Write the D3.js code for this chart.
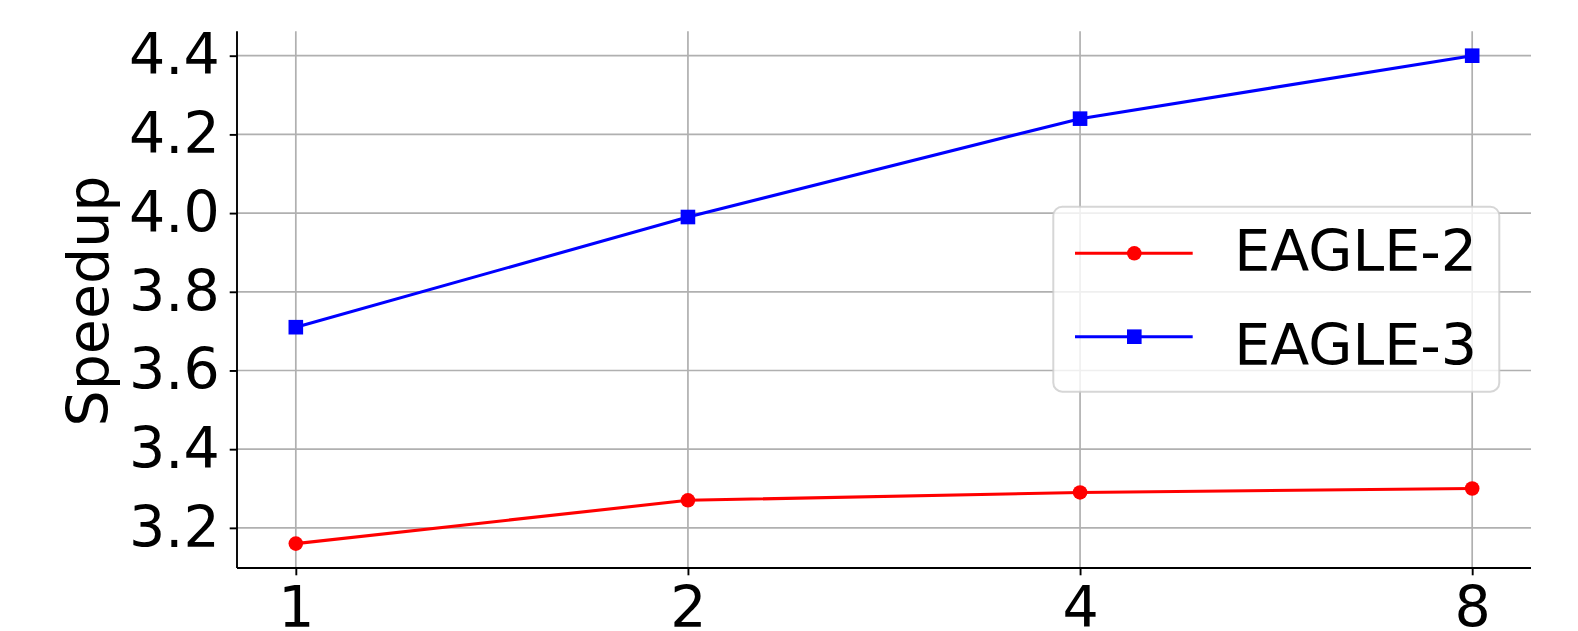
<!DOCTYPE html>
<html>
<head>
<meta charset="utf-8">
<script src="https://cdn.jsdelivr.net/npm/d3@7"></script>
<style>
  html, body { margin: 0; padding: 0; background: #fff; }
  svg text { font-family: "DejaVu Sans", sans-serif; }
</style>
</head>
<body>
<div id="chart"></div>
<script>
// chart data
const categories = ["1", "2", "4", "8"];
const eagle2 = [3.16, 3.27, 3.29, 3.30];
const eagle3 = [3.71, 3.99, 4.24, 4.40];
const yTicks = [3.2, 3.4, 3.6, 3.8, 4.0, 4.2, 4.4];
const seriesNames = ["EAGLE-2", "EAGLE-3"];

const W = 1578, H = 631;
const margin = {left: 237, right: 47, top: 31.3, bottom: 63};
const fontSize = 57;

const svg = d3.select("#chart").append("svg")
    .attr("width", W)
    .attr("height", H);

// x is the category index, matplotlib style 5% margins
const x = d3.scaleLinear()
    .domain([-0.15, categories.length - 1 + 0.15])
    .range([margin.left, W - margin.right]);

const y = d3.scaleLinear()
    .domain([3.098, 4.462])
    .range([H - margin.bottom, margin.top]);

const plot = svg.append("g");

//grid lines
plot.append("g")
    .selectAll("line")
    .data(categories)
    .enter()
    .append("line")
        .attr("x1", (d, i) => x(i))
        .attr("x2", (d, i) => x(i))
        .attr("y1", margin.top)
        .attr("y2", H - margin.bottom)
        .attr("stroke", "#b0b0b0")
        .attr("stroke-width", 1.7);

plot.append("g")
    .selectAll("line")
    .data(yTicks)
    .enter()
    .append("line")
        .attr("x1", margin.left)
        .attr("x2", W - margin.right)
        .attr("y1", d => y(d))
        .attr("y2", d => y(d))
        .attr("stroke", "#b0b0b0")
        .attr("stroke-width", 1.7);

//axes, only left and bottom
const xAxis = svg.append("g")
    .attr("transform", `translate(0, ${H - margin.bottom})`)
    .call(d3.axisBottom(x)
        .tickValues(d3.range(categories.length))
        .tickFormat(i => categories[i])
        .tickSize(7.3)
        .tickPadding(11)
        .tickSizeOuter(0));

const yAxis = svg.append("g")
    .attr("transform", `translate(${margin.left}, 0)`)
    .call(d3.axisLeft(y)
        .tickValues(yTicks)
        .tickFormat(d3.format(".1f"))
        .tickSize(7.3)
        .tickPadding(10)
        .tickSizeOuter(0));

[xAxis, yAxis].forEach(a => {
    a.select(".domain").attr("stroke", "#000").attr("stroke-width", 1.9);
    a.selectAll(".tick line").attr("stroke", "#000").attr("stroke-width", 1.9);
    a.selectAll(".tick text")
        .attr("font-size", fontSize)
        .attr("fill", "#000")
        .style("font-family", "DejaVu Sans");
});
// the bottom spine starts at the left spine
xAxis.select(".domain").attr("d", `M${margin.left},0H${W - margin.right}`);
yAxis.select(".domain").attr("d", `M0,${margin.top}V${H - margin.bottom}`);

svg.append("text")
    .attr("transform", "translate(108, 301) rotate(-90)")
    .attr("text-anchor", "middle")
    .attr("font-size", fontSize)
    .text("Speedup");

//lines and markers
const line = d3.line()
    .x((d, i) => x(i))
    .y(d => y(d));

plot.append("path")
    .attr("d", line(eagle2))
    .attr("fill", "none")
    .attr("stroke", "#ff0000")
    .attr("stroke-width", 3.1);

plot.append("path")
    .attr("d", line(eagle3))
    .attr("fill", "none")
    .attr("stroke", "#0000ff")
    .attr("stroke-width", 3.1);

plot.append("g")
    .selectAll("circle")
    .data(eagle2)
    .enter()
    .append("circle")
        .attr("cx", (d, i) => x(i))
        .attr("cy", d => y(d))
        .attr("r", 7.3)
        .attr("fill", "#ff0000");

const sq = 14.6;
plot.append("g")
    .selectAll("rect")
    .data(eagle3)
    .enter()
    .append("rect")
        .attr("x", (d, i) => x(i) - sq / 2)
        .attr("y", d => y(d) - sq / 2)
        .attr("width", sq)
        .attr("height", sq)
        .attr("fill", "#0000ff");

//legend
const legend = svg.append("g").attr("transform", "translate(1053.3, 206.7)");
legend.append("rect")
    .attr("width", 446)
    .attr("height", 185)
    .attr("rx", 9)
    .attr("fill", "#fff")
    .attr("fill-opacity", 0.8)
    .attr("stroke", "#cccccc")
    .attr("stroke-opacity", 0.8)
    .attr("stroke-width", 2);

const colors = ["#ff0000", "#0000ff"];
const rowLine = [46.6, 130];
const rowText = [64, 158];
seriesNames.forEach((name, i) => {
    const row = legend.append("g");
    row.append("line")
        .attr("x1", 21.7).attr("x2", 139.4)
        .attr("y1", rowLine[i]).attr("y2", rowLine[i])
        .attr("stroke", colors[i])
        .attr("stroke-width", 3.1);
    if (i === 0) {
        row.append("circle").attr("cx", 81).attr("cy", rowLine[i])
            .attr("r", 7.3).attr("fill", colors[i]);
    } else {
        row.append("rect").attr("x", 81 - sq / 2).attr("y", rowLine[i] - sq / 2)
            .attr("width", sq).attr("height", sq).attr("fill", colors[i]);
    }
    row.append("text")
        .attr("x", 181)
        .attr("y", rowText[i])
        .attr("font-size", fontSize)
        .text(name);
});
</script>
</body>
</html>
